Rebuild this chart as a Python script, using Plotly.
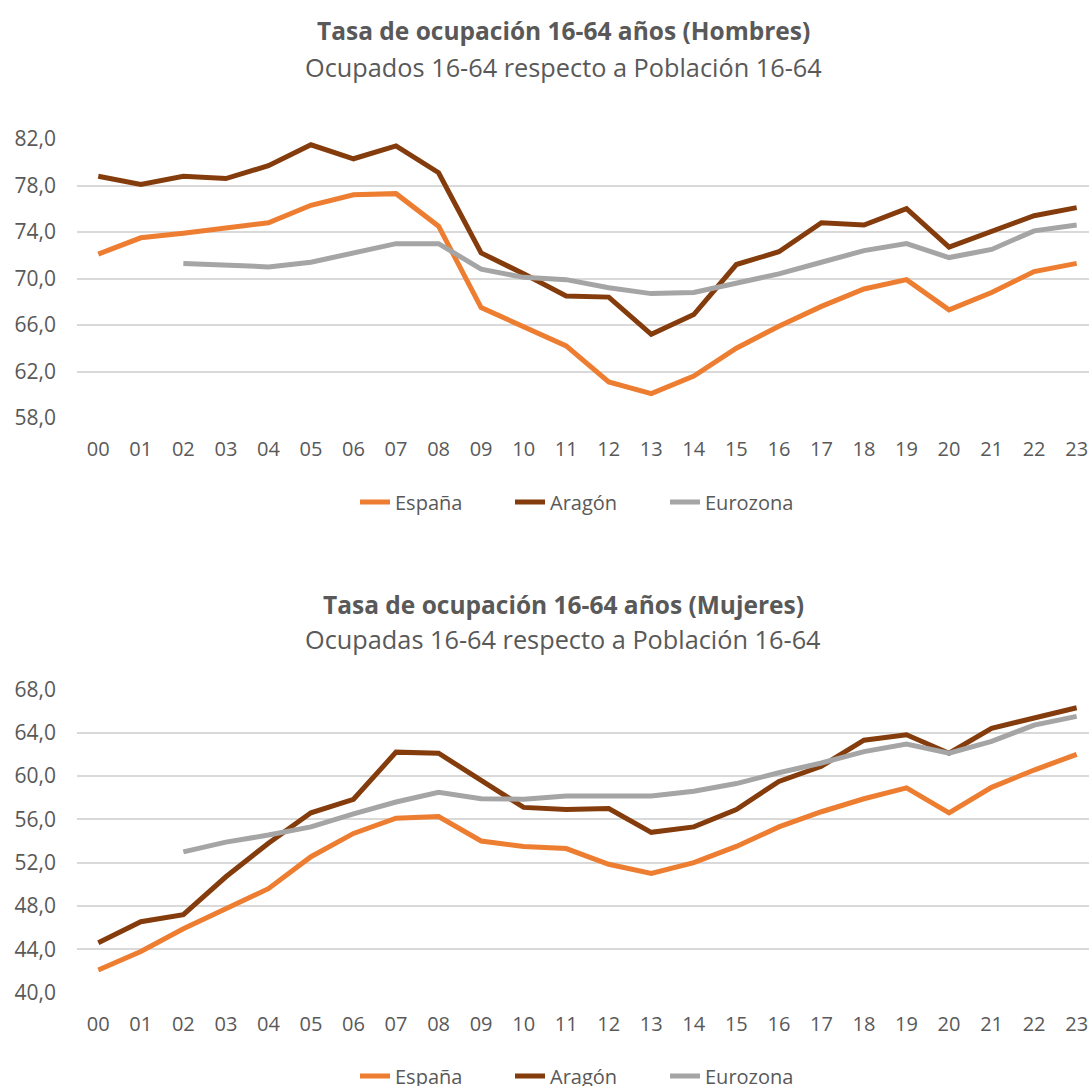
import plotly.graph_objects as go

years = ["00","01","02","03","04","05","06","07","08","09","10","11",
         "12","13","14","15","16","17","18","19","20","21","22","23"]
xpos = list(range(len(years)))

# Hombres
esp_h = [72.1, 73.5, 73.9, 74.4, 74.8, 76.3, 77.2, 77.3, 74.5, 67.5, 65.8, 64.2,
         61.1, 60.1, 61.6, 64.0, 65.9, 67.6, 69.1, 69.9, 67.3, 68.8, 70.6, 71.3]
ara_h = [78.8, 78.1, 78.8, 78.6, 79.7, 81.5, 80.3, 81.4, 79.1, 72.2, 70.4, 68.5,
         68.4, 65.2, 66.9, 71.2, 72.3, 74.8, 74.6, 76.0, 72.7, 74.1, 75.4, 76.1]
eur_h = [None, None, 71.3, 71.1, 71.0, 71.4, 72.2, 73.0, 73.0, 70.8, 70.1, 69.9,
         69.2, 68.7, 68.8, 69.6, 70.4, 71.4, 72.4, 73.0, 71.8, 72.5, 74.1, 74.6]

# Mujeres
esp_m = [42.1, 43.8, 45.9, 47.7, 49.6, 52.55, 54.7, 56.1, 56.25, 54.0, 53.5, 53.3,
         51.85, 51.0, 52.0, 53.5, 55.3, 56.7, 57.9, 58.9, 56.6, 58.95, 60.55, 62.0]
ara_m = [44.6, 46.55, 47.2, 50.7, 53.8, 56.6, 57.85, 62.2, 62.1, 59.6, 57.1, 56.9,
         57.0, 54.8, 55.3, 56.9, 59.5, 60.9, 63.3, 63.8, 62.1, 64.4, 65.3, 66.3]
eur_m = [None, None, 53.0, 53.9, 54.55, 55.3, 56.5, 57.6, 58.5, 57.9, 57.85, 58.15,
         58.15, 58.15, 58.6, 59.3, 60.3, 61.2, 62.25, 62.95, 62.1, 63.2, 64.7, 65.5]

series_names = ["España", "Aragón", "Eurozona"]
colors = ["#ED7D31", "#843C0C", "#A5A5A5"]

W, H = 1089, 1086
FONT = "Open Sans"
TXT = "#595959"
L = 77

fig = go.Figure()
for name, col, ys in zip(series_names, colors, [esp_h, ara_h, eur_h]):
    fig.add_trace(go.Scatter(x=xpos, y=ys, name=name, mode="lines",
                             line=dict(color=col, width=5),
                             xaxis="x", yaxis="y", legend="legend"))
for name, col, ys in zip(series_names, colors, [esp_m, ara_m, eur_m]):
    fig.add_trace(go.Scatter(x=xpos, y=ys, name=name, mode="lines",
                             line=dict(color=col, width=5),
                             xaxis="x2", yaxis="y2", legend="legend2"))

def py(pix):
    return 1 - pix / H

def px(pix):
    return (pix - L) / (W - L)

xcommon = dict(range=[-0.5, 23.29], tickvals=xpos, ticktext=years, showgrid=False,
               zeroline=False, showline=False, ticks="", automargin=False,
               tickfont=dict(family=FONT, size=20, color=TXT),
               ticklabelstandoff=17, fixedrange=True)
ycommon = dict(showgrid=True, gridcolor="#D9D9D9", gridwidth=1.5, zeroline=False,
               showline=False, ticks="", tickformat=".1f", dtick=4, automargin=False,
               tickfont=dict(family=FONT, size=21, color=TXT),
               ticklabelstandoff=20, fixedrange=True)

legcommon = dict(orientation="h", x=px(355), xanchor="left", yanchor="middle",
                 font=dict(family=FONT, size=20, color=TXT), bgcolor="rgba(0,0,0,0)",
                 entrywidth=110, entrywidthmode="pixels", itemclick=False)

fig.update_layout(
    width=W, height=H,
    margin=dict(l=L, r=0, t=0, b=0, autoexpand=False),
    paper_bgcolor="white", plot_bgcolor="white",
    separators=",.",
    font=dict(family=FONT, color=TXT),
    xaxis=dict(domain=[0, 1], anchor="y", **xcommon),
    yaxis=dict(domain=[py(418), py(139)], anchor="x", range=[58, 82], tick0=58, **ycommon),
    xaxis2=dict(domain=[0, 1], anchor="y2", **xcommon),
    yaxis2=dict(domain=[py(992.7), py(689.3)], anchor="x2", range=[40, 68], tick0=40, **ycommon),
    legend=dict(y=py(502), **legcommon),
    legend2=dict(y=py(1076), **legcommon),
    showlegend=True,
)

titles = [
    ("<b>Tasa de ocupación 16-64 años (Hombres)</b>", 30, 24.5),
    ("Ocupados 16-64 respecto a Población 16-64", 67, 25.3),
    ("<b>Tasa de ocupación 16-64 años (Mujeres)</b>", 604, 24.5),
    ("Ocupadas 16-64 respecto a Población 16-64", 639, 25.3),
]
for text, ypix, size in titles:
    fig.add_annotation(text=text, xref="paper", yref="paper", x=px(563), y=py(ypix),
                       xanchor="center", yanchor="middle", showarrow=False,
                       font=dict(family=FONT, size=size, color=TXT))

fig.write_html("out.html", config={"displayModeBar": False},
               post_script="document.body.style.margin='0';")
